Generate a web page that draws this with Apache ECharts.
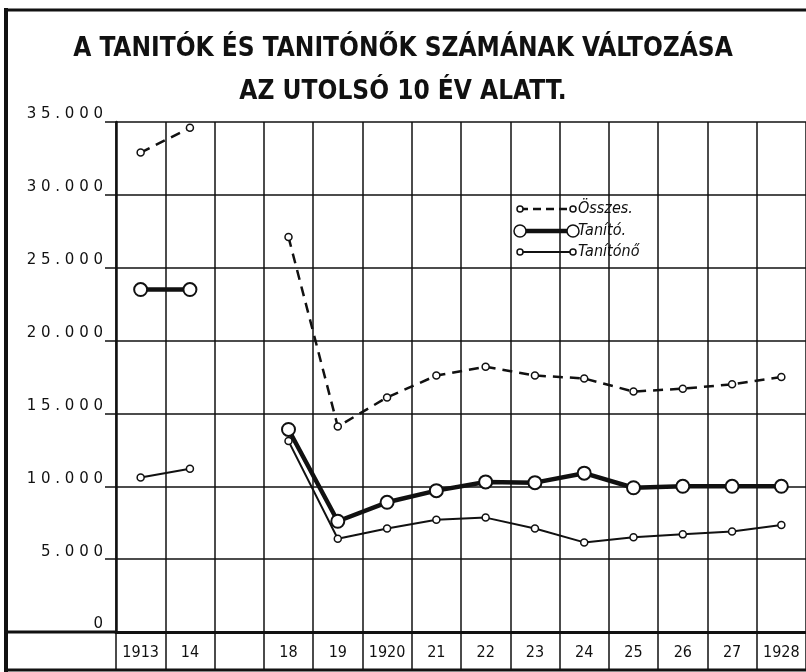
<!DOCTYPE html>
<html>
<head>
<meta charset="utf-8">
<script src="https://cdn.jsdelivr.net/npm/echarts@6.0.0/dist/echarts.min.js"></script>
<style>
  html, body { margin: 0; padding: 0; background: #fff; }
  #chart { width: 806px; height: 672px; }
</style>
</head>
<body>
<div id="chart"></div>
<script>
// evek (az ures oszlop a hianyzo 1915-17)
var years = ['1913', '14', '', '18', '19', '1920', '21', '22', '23', '24', '25', '26', '27', '1928'];
var yLabels = ['0', '5.000', '10.000', '15.000', '20.000', '25.000', '30.000', '35.000'];

// adatok
var osszes = [32900, 34600, null, 27100, 14100, 16100, 17600, 18200, 17600, 17400, 16500, 16700, 17000, 17500];
var tanito = [23500, 23500, null, 13900, 7600, 8900, 9700, 10300, 10250, 10900, 9900, 10000, 10000, 10000];
var tanitono = [10600, 11200, null, 13100, 6400, 7100, 7700, 7850, 7100, 6150, 6500, 6700, 6900, 7350];

var ink = '#111';
var narrow = '"Liberation Sans Narrow", "DejaVu Sans Condensed", "Roboto Condensed", "Noto Sans", sans-serif';
var chart = echarts.init(document.getElementById('chart'));

// jelmagyarazat sor (vonal + ket karika + felirat)
function legendRow(y, name, width, dash, r) {
  return {
    type: 'group',
    children: [
      { type: 'line', shape: { x1: 520, y1: y, x2: 573, y2: y },
        style: { stroke: ink, lineWidth: width, lineDash: dash } },
      { type: 'circle', shape: { cx: 520, cy: y, r: r },
        style: { fill: '#fff', stroke: ink, lineWidth: 1.5 } },
      { type: 'circle', shape: { cx: 573, cy: y, r: r },
        style: { fill: '#fff', stroke: ink, lineWidth: 1.5 } },
      { type: 'text', x: 578, y: y, style: {
          text: name, fill: ink, font: 'italic 16px ' + narrow,
          verticalAlign: 'middle' } }
    ]
  };
}

var option = {
  backgroundColor: '#fff',
  animation: false,
  title: {
    text: 'A TANITÓK ÉS TANITÓNŐK SZÁMÁNAK VÁLTOZÁSA\nAZ UTOLSÓ 10 ÉV ALATT.',
    left: 'center',
    top: 23,
    textStyle: {
      color: ink,
      fontFamily: narrow,
      fontWeight: 'bold',
      fontSize: 26,
      lineHeight: 43
    }
  },
  grid: { left: 116, right: -3, top: 122, bottom: 40 },
  xAxis: {
    type: 'category',
    data: years,
    boundaryGap: true,
    axisLine: { lineStyle: { color: ink, width: 3 } },
    axisTick: { show: true, interval: 0, length: 38, lineStyle: { color: ink, width: 1.5 } },
    axisLabel: {
      interval: 0, margin: 13, color: ink,
      fontFamily: narrow, fontSize: 16
    },
    splitLine: { show: true, interval: 0, lineStyle: { color: ink, width: 1.5 } }
  },
  yAxis: {
    type: 'value',
    min: 0,
    max: 35000,
    interval: 5000,
    axisLine: { show: true, lineStyle: { color: ink, width: 2.5 } },
    axisTick: { show: true, length: 11, lineStyle: { color: ink, width: 1.5 } },
    axisLabel: {
      margin: 13, color: ink, fontFamily: 'DejaVu Sans', fontSize: 15,
      verticalAlign: 'bottom', lineHeight: 15,
      formatter: function (value, index) {
        return yLabels[index].split('').join(' ');
      }
    },
    splitLine: { show: true, lineStyle: { color: ink, width: 1.5 } }
  },
  series: [
    {
      name: 'Összes',
      type: 'line',
      data: osszes,
      connectNulls: false,
      symbol: 'circle',
      symbolSize: 7,
      itemStyle: { color: '#fff', borderColor: ink, borderWidth: 1.5 },
      lineStyle: { color: ink, width: 2.5, type: [10, 7] },
      z: 3
    },
    {
      name: 'Tanítónő',
      type: 'line',
      data: tanitono,
      connectNulls: false,
      symbol: 'circle',
      symbolSize: 7,
      itemStyle: { color: '#fff', borderColor: ink, borderWidth: 1.5 },
      lineStyle: { color: ink, width: 2 },
      z: 4
    },
    {
      name: 'Tanító',
      type: 'line',
      data: tanito,
      connectNulls: false,
      symbol: 'circle',
      symbolSize: 13,
      itemStyle: { color: '#fff', borderColor: ink, borderWidth: 2 },
      lineStyle: { color: ink, width: 4.5 },
      z: 5
    }
  ],
  graphic: [
    // keret
    { type: 'line', shape: { x1: 6, y1: 8, x2: 6, y2: 672 }, style: { stroke: ink, lineWidth: 4 } },
    { type: 'line', shape: { x1: 4, y1: 10, x2: 806, y2: 10 }, style: { stroke: ink, lineWidth: 3 } },
    { type: 'line', shape: { x1: 4, y1: 670, x2: 806, y2: 670 }, style: { stroke: ink, lineWidth: 3 } },
    { type: 'line', shape: { x1: 6, y1: 632, x2: 116, y2: 632 }, style: { stroke: ink, lineWidth: 3 } },
    legendRow(209, 'Összes.', 2.5, [8, 5], 3),
    legendRow(231, 'Tanító.', 4.5, null, 6),
    legendRow(252, 'Tanítónő', 2, null, 3)
  ]
};

chart.setOption(option);
</script>
</body>
</html>
